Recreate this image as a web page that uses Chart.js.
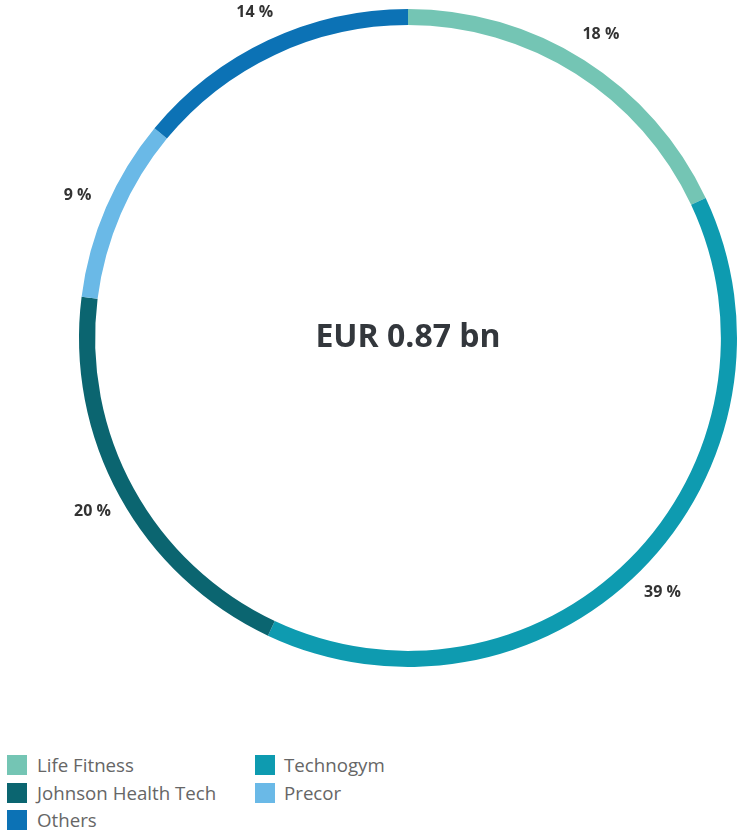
<!DOCTYPE html>
<html>
<head>
<meta charset="utf-8">
<script src="https://cdn.jsdelivr.net/npm/chart.js@4/dist/chart.umd.min.js"></script>
<style>
  body { margin: 0; background: #fff; font-family: "Open Sans", sans-serif; }
  #wrap { position: relative; width: 745px; height: 838px; }
  #chartbox { position: absolute; left: 0; top: 0; width: 745px; height: 700px; }
  #legend { position: absolute; left: 7px; top: 755px; display: grid;
            grid-template-columns: 248px auto; row-gap: 7.5px; }
  .item { display: flex; align-items: center; height: 20px; font-size: 18.7px;
          color: #666; line-height: 20px; }
  .box { width: 20px; height: 20px; margin-right: 10px; }
  .item:nth-child(even) .box { margin-right: 9px; }
</style>
</head>
<body>
<div id="wrap">
  <div id="chartbox"><canvas id="cv"></canvas></div>
  <div id="legend"></div>
</div>
<script>
// daten
const companies = ["Life Fitness", "Technogym", "Johnson Health Tech", "Precor", "Others"];
const shares = [18, 39, 20, 9, 14];
const colors = ["#74c5b4", "#0e9bb0", "#0b6570", "#6ab9e7", "#0c72b5"];
const centerLabel = "EUR 0.87 bn";

// legende als html (zwei spalten)
let legend = document.getElementById("legend");
companies.forEach((c, i) => {
    let item = document.createElement("div");
    item.className = "item";
    item.innerHTML = '<span class="box" style="background:' + colors[i] + '"></span>' + c;
    legend.appendChild(item);
});

// prozent-labels und text in der mitte
const labelPlugin = {
    id: "labels",
    afterDatasetsDraw(chart) {
        let ctx = chart.ctx;
        let meta = chart.getDatasetMeta(0);
        ctx.save();
        ctx.fillStyle = "#333";
        ctx.textAlign = "center";
        ctx.textBaseline = "middle";
        ctx.font = "bold 16px 'Open Sans'";
        meta.data.forEach((arc, i) => {
            let p = arc.getProps(["x", "y", "startAngle", "endAngle", "outerRadius"], true);
            let mid = (p.startAngle + p.endAngle) / 2;
            let r = p.outerRadius + 31;
            ctx.fillText(shares[i] + " %", p.x + Math.cos(mid) * r, p.y + Math.sin(mid) * r);
        });
        let a = meta.data[0];
        ctx.fillStyle = "#33373c";
        ctx.font = "bold 32px 'Open Sans'";
        ctx.fillText(centerLabel, a.x, a.y);
        ctx.restore();
    }
};

new Chart(document.getElementById("cv").getContext("2d"), {
    type: "doughnut",
    data: {
        labels: companies,
        datasets: [{
            data: shares,
            backgroundColor: colors,
            borderWidth: 0
        }]
    },
    options: {
        responsive: true,
        maintainAspectRatio: false,
        animation: false,
        cutout: "95.1%",
        layout: { padding: { top: 9, left: 79, right: 8, bottom: 33 } },
        plugins: {
            legend: { display: false },
            tooltip: { enabled: false }
        }
    },
    plugins: [labelPlugin]
});
</script>
</body>
</html>
